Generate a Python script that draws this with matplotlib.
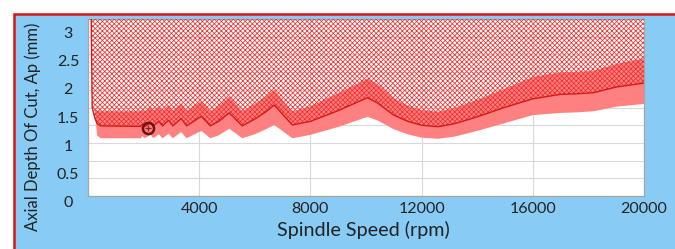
import numpy as np
import matplotlib
matplotlib.use("Agg")
import matplotlib.pyplot as plt
from matplotlib.patches import Rectangle

plt.rcParams['font.family'] = ['Lato', 'DejaVu Sans']
plt.rcParams['hatch.linewidth'] = 0.55

# spindle speed (rpm) and the three boundaries of the stability chart (Ap, mm)
rpm = [100, 150, 250, 330, 450, 1900, 1950, 2050, 2250, 2350, 2550, 2680, 2900, 3050,
       3350, 3550, 4080, 4400, 4700, 5080, 5550, 6000, 6400, 6700, 7350, 8000, 9000,
       10050, 10400, 11000, 11500, 12000, 12600, 13200, 14000, 15000, 16000, 17000,
       17600, 18200, 19000, 20000]
lower = [4.0, 4.0, 1.6, 1.2, 1.15, 1.15, 1.19, 1.15, 1.21, 1.15, 1.22, 1.15, 1.23, 1.15,
         1.26, 1.15, 1.28, 1.15, 1.2, 1.32, 1.15, 1.22, 1.31, 1.385, 1.15, 1.21, 1.35,
         1.53, 1.47, 1.31, 1.22, 1.16, 1.14, 1.18, 1.28, 1.42, 1.56, 1.6,
         1.61, 1.63, 1.71, 1.76]
limit = [4.0, 1.7, 1.5, 1.41, 1.37, 1.36, 1.40, 1.36, 1.43, 1.37, 1.45, 1.37, 1.47, 1.37,
         1.5, 1.37, 1.54, 1.37, 1.45, 1.6, 1.37, 1.49, 1.62, 1.74, 1.385, 1.45, 1.64,
         1.87, 1.78, 1.56, 1.45, 1.38, 1.355, 1.41, 1.53, 1.7, 1.85, 1.93,
         1.94, 1.96, 2.06, 2.13]
upper = [4.0, 4.0, 1.66, 1.64, 1.63, 1.63, 1.66, 1.63, 1.71, 1.64, 1.72, 1.64, 1.74, 1.64,
         1.77, 1.64, 1.81, 1.63, 1.72, 1.89, 1.63, 1.76, 1.9, 2.01, 1.62, 1.72, 1.95,
         2.21, 2.12, 1.86, 1.73, 1.65, 1.62, 1.69, 1.83, 2.03, 2.24, 2.32,
         2.33, 2.35, 2.47, 2.57]

# chosen cutting point
point_rpm = 2150
point_ap = 1.34

xticks = [4000, 8000, 12000, 16000, 20000]
yticks = [0, 0.5, 1, 1.5, 2, 2.5, 3]
ytick_labels = ['0', '0.5', '1', '1.5', '2', '2.5', '3']

W, H = 675, 249
fig = plt.figure(figsize=(W / 100, H / 100), dpi=100)
fig.patch.set_facecolor('white')

# blue panel with red frame (cut off at right and bottom)
bg = Rectangle((14.5 / W, -0.05), 1.1, 1 - 14.5 / H + 0.05, transform=fig.transFigure,
               facecolor='#88CCF6', edgecolor='#D8141C', linewidth=1.8, zorder=-1)
fig.patches.append(bg)

ax = fig.add_axes([88 / W, 1 - 196 / H, (644 - 88) / W, (196 - 19) / H])
ax.set_zorder(1)
ax.set_facecolor('white')
ylo, yhi = 0.124, 3.268
ax.set_xlim(0, 20000)
ax.set_ylim(ylo, yhi)

# grid (the plotted gridlines do not line up with the labels in the original)
ax.set_yticks(np.linspace(ylo, yhi, 11))
ax.set_yticklabels([])
ax.set_xticks(xticks)
ax.set_xticklabels([str(t) for t in xticks], fontsize=11.5, color='#222222')
ax.tick_params(length=0, pad=4)
ax.grid(True, color='#D9D9D9', linewidth=0.8)
ax.set_axisbelow(True)
for s in ax.spines.values():
    s.set_color('#A6A6A6')
    s.set_linewidth(0.9)

# pink band, hatched unstable region, limit line
ax.fill_between(rpm, lower, upper, facecolor='#FF8080', linewidth=0, zorder=2)
ax.fill_between(rpm, limit, 5, facecolor='none', edgecolor='#F03030', hatch='x' * 7,
                linewidth=0, zorder=3)
ax.plot(rpm, limit, color='#D81818', linewidth=1.0, zorder=4)

ax.plot(point_rpm, point_ap, 'o', ms=8, mfc='none', mec='#701010', mew=1.8, zorder=5)
ax.plot(point_rpm, point_ap, '+', ms=5, color='#8B2020', mew=0.9, zorder=5)

for v, lab in zip(yticks, ytick_labels):
    ax.text((68 - 88) / 556, (203 - 56.3 * v - 196) / -177 * (yhi - ylo) + ylo, lab,
            transform=ax.get_yaxis_transform(), ha='center', va='center',
            fontsize=11.5, color='#222222', clip_on=False)

fig.text(363 / W, 1 - 230 / H, 'Spindle Speed (rpm)', ha='center', va='center',
         fontsize=14.2, color='#222222')
fig.text(32.5 / W, 1 - 127 / H, 'Axial Depth Of Cut, Ap (mm)', ha='center', va='center',
         rotation=90, fontsize=12, color='#222222')

fig.savefig('out.png', dpi=100)
